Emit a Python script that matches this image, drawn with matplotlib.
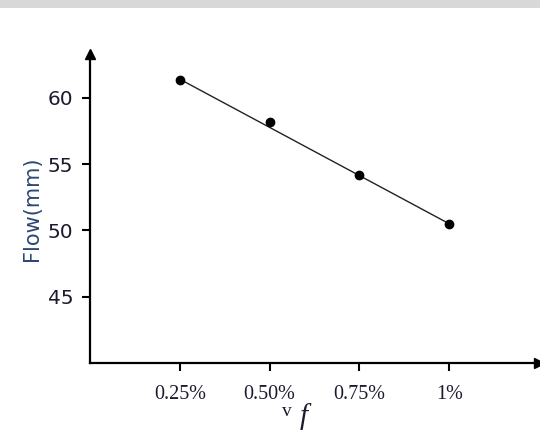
import matplotlib
matplotlib.use("Agg")
import matplotlib.pyplot as plt
from matplotlib.patches import Rectangle

# ---------- data ----------
vf_pos = [1, 2, 3, 4]
vf_labels = ["0.25%", "0.50%", "0.75%", "1%"]
flow_mm = [61.35, 58.2, 54.2, 50.45]

# trend line drawn in the original (end points)
trend_x = [1, 4]
trend_y = [61.4, 50.5]

y_ticks = [45, 50, 55, 60]

# ---------- figure ----------
fig = plt.figure(figsize=(5.4, 4.3), dpi=100)
fig.patch.set_facecolor("white")

# grey band at the very top of the scanned image
fig.patches.append(Rectangle((0, 1 - 8 / 430), 1, 8 / 430, transform=fig.transFigure,
                             facecolor="#d8d8d8", edgecolor="none", zorder=0))

ax = fig.add_axes([90 / 540, 67 / 430, 449 / 540, 309 / 430])
ax.set_xlim(0, 5.0)
ax.set_ylim(40, 63.3)

ax.plot(trend_x, trend_y, color="#222222", linewidth=1.0, zorder=2)
ax.plot(vf_pos, flow_mm, linestyle="none", marker="o", markersize=6,
        color="black", zorder=3)

for side in ("top", "right"):
    ax.spines[side].set_visible(False)
for side in ("left", "bottom"):
    ax.spines[side].set_linewidth(1.6)
    ax.spines[side].set_color("black")

# arrow heads at the axis ends
ax.plot(0, 1, marker="^", markersize=7, color="black", transform=ax.transAxes, clip_on=False)
ax.plot(1, 0, marker=">", markersize=7, color="black", transform=ax.transAxes, clip_on=False)

ax.set_yticks(y_ticks)
ax.set_yticklabels([str(v) for v in y_ticks], fontsize=14.5, color="#1b1b2f",
                   family="DejaVu Sans")
ax.set_xticks(vf_pos)
ax.set_xticklabels(vf_labels, fontsize=14.5, color="#1b1b2f", family="Liberation Serif")
ax.tick_params(axis="y", direction="out", length=6, width=1.5, pad=6)
ax.tick_params(axis="x", direction="out", length=6, width=1.5, pad=10)

ax.set_ylabel("Flow(mm)", fontsize=15, color="#2b4775", family="DejaVu Sans", labelpad=4)

# axis title "vf" as in the original (small upright v, italic f)
fig.text(287 / 540, 1 - 411 / 430, "v", fontsize=14, family="Liberation Serif",
         color="#1b1b2f", ha="center", va="center")
fig.text(304 / 540, 1 - 417 / 430, "f", fontsize=21, family="Liberation Serif",
         style="italic", color="#1b1b2f", ha="center", va="center")

fig.savefig("out.png", dpi=100)
